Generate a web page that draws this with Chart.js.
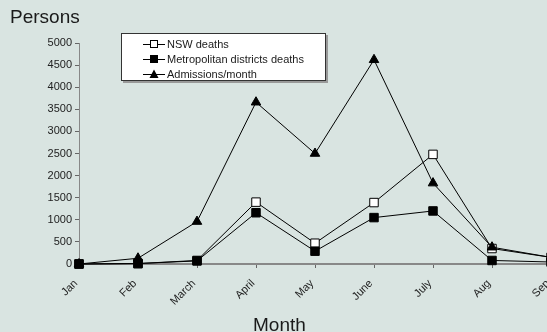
<!DOCTYPE html>
<html>
<head>
<meta charset="utf-8">
<script src="https://cdn.jsdelivr.net/npm/chart.js@4"></script>
<style>
  body { margin: 0; background: #d9e4e1; overflow: hidden; font-family: 'Liberation Sans', Arial, sans-serif; color: #1a1a1a; }
  #wrap { position: relative; width: 547px; height: 332px; overflow: hidden; }
  #chart { position: absolute; left: 0; top: 0; }
  .lbl { position: absolute; white-space: nowrap; }
  #legend { position: absolute; left: 121px; top: 33px; width: 205px; height: 48px; background: #fff; border: 1px solid #333; box-shadow: 2px 2px 0 #999; box-sizing: border-box; }
  #legend .row { position: absolute; left: 21px; height: 14px; display: flex; align-items: center; font-size: 11px; }
  #legend svg { margin-right: 2px; }
</style>
</head>
<body>
<div id="wrap">
  <canvas id="chart" width="560" height="332"></canvas>
  <div class="lbl" style="left:10px;top:6px;font-size:19px;">Persons</div>
  <div class="lbl" style="left:253px;top:314px;font-size:19px;">Month</div>
  <div id="legend"></div>
</div>
<script>
// data
const months = ['Jan', 'Feb', 'March', 'April', 'May', 'June', 'July', 'Aug', 'Sep'];
const nswDeaths = [0, 10, 80, 1400, 470, 1390, 2480, 350, 150];
const metroDeaths = [0, 10, 70, 1160, 290, 1050, 1200, 80, 45];
const admissions = [0, 130, 960, 3660, 2500, 4620, 1830, 380, 150];
const yTicks = [0, 500, 1000, 1500, 2000, 2500, 3000, 3500, 4000, 4500, 5000];

const series = [
    { label: 'NSW deaths', data: nswDeaths, style: 'rect', fill: '#ffffff', radius: 6 },
    { label: 'Metropolitan districts deaths', data: metroDeaths, style: 'rect', fill: '#000000', radius: 6 },
    { label: 'Admissions/month', data: admissions, style: 'triangle', fill: '#000000', radius: 5.5 }
];

function markerSvg(s) {
    let shape = '';
    if (s.style === 'rect') {
        shape = `<rect x="7.5" y="1.5" width="7" height="7" fill="${s.fill}" stroke="#000" stroke-width="1"/>`;
    } else {
        shape = `<polygon points="11,0.5 15.5,9 6.5,9" fill="#000"/>`;
    }
    return `<svg width="22" height="10"><line x1="0" y1="5.5" x2="22" y2="5.5" stroke="#000" stroke-width="1"/>${shape}</svg>`;
}

function buildLegend() {
    const el = document.getElementById('legend');
    el.innerHTML = series.map((s, i) =>
        `<div class="row" style="top:${3 + i * 15}px">${markerSvg(s)}<span>${s.label}</span></div>`
    ).join('');
}

function init() {
    const ctx = document.getElementById('chart').getContext('2d');
    buildLegend();

    new Chart(ctx, {
        type: 'line',
        data: {
            labels: months,
            datasets: series.map((s, i) => ({
                label: s.label,
                data: s.data,
                borderColor: '#000',
                borderWidth: 1,
                pointStyle: s.style,
                pointRadius: s.radius,
                pointBackgroundColor: s.fill,
                pointBorderColor: '#000',
                pointBorderWidth: 1,
                tension: 0,
                fill: false,
                clip: false,
                order: 2 - i
            }))
        },
        options: {
            responsive: false,
            animation: false,
            layout: { padding: { top: 43, right: 9, bottom: 0, left: 0 } },
            plugins: {
                legend: { display: false },
                tooltip: { enabled: false }
            },
            scales: {
                x: {
                    offset: false,
                    border: { color: '#888', width: 2 },
                    grid: { drawOnChartArea: false, tickLength: 4, color: '#666' },
                    ticks: {
                        autoSkip: false,
                        minRotation: 45,
                        maxRotation: 45,
                        padding: 9,
                        labelOffset: -3,
                        color: '#222',
                        font: { family: 'Liberation Sans', size: 11 }
                    },
                    afterFit: (scale) => {
                        scale.height = 68;
                        scale.paddingLeft = 0;
                        scale.paddingRight = 0;
                    }
                },
                y: {
                    min: 0,
                    max: 5000,
                    border: { color: '#888', width: 1 },
                    grid: { drawOnChartArea: false, tickLength: 4, color: '#666' },
                    afterBuildTicks: (scale) => { scale.ticks = yTicks.map(v => ({ value: v })); },
                    ticks: {
                        padding: 3,
                        color: '#222',
                        font: { family: 'Liberation Sans', size: 11 },
                        callback: (v) => String(v)
                    },
                    afterFit: (scale) => { scale.width = 79; }
                }
            }
        }
    });
}

document.addEventListener('DOMContentLoaded', init);
</script>
</body>
</html>
